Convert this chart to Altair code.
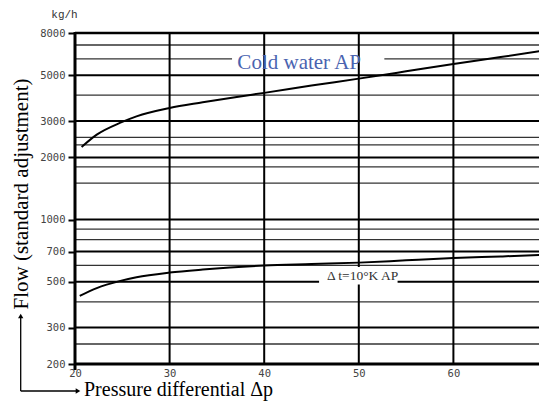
import altair as alt
import pandas as pd

# ---- data ----
cold_x = [20.7, 22.3, 24.8, 26.5, 30.0, 33.5, 37.1, 40.0, 45.0, 50.0, 55.0, 60.0, 65.0, 70.0]
cold_y = [2246, 2577, 2944, 3160, 3470, 3695, 3925, 4105, 4452, 4811, 5220, 5670, 6120, 6620]

dt_x = [20.5, 22.3, 24.8, 26.5, 30.0, 33.5, 40.0, 45.0, 50.0, 55.0, 60.0, 65.0, 70.0]
dt_y = [427, 466, 505, 526, 554, 573, 599, 609, 619, 635, 651, 663, 676]

x_ticks = [20, 30, 40, 50, 60, 70]
x_tick_labels = ["20", "30", "40", "50", "60", "80"]
y_ticks = [200, 300, 500, 700, 1000, 2000, 3000, 5000, 8000]
y_minor = [250, 400, 600, 800, 900, 1500, 1800, 2300, 2500, 4000, 6000, 7000]
x_grid = [30, 40, 50, 60, 70]

label_names = ["Cold water AP", "Δ t=10°K AP"]
label_x = [43.7, 50.4]
label_y = [5728, 533]

XDOM = [20, 70]
YDOM = [200, 8000]

W, H = 464, 331      # visible plot width (page is clipped on the right)
XRANGE = [0, 473]    # full x extent of the original plot, partly cut off

label_expr = "{" + ",".join(f"'{v}':'{l}'" for v, l in zip(x_ticks, x_tick_labels)) + "}[datum.value]"
X_AXIS = alt.Axis(values=x_ticks, title="", labelFont="DejaVu Sans Mono", labelFontSize=10.5,
                  labelColor="#444444", ticks=False, domain=False, grid=False,
                  labelPadding=4, labelExpr=label_expr, labelFlush=False)
Y_AXIS = alt.Axis(values=y_ticks, title="", labelFont="DejaVu Sans Mono", labelFontSize=10.5,
                  labelColor="#444444", ticks=True, tickSize=7, tickWidth=2, tickColor="black",
                  domain=False, grid=False, labelPadding=3, format="d")


def xe(field):
    return alt.X(field, type="quantitative",
                 scale=alt.Scale(domain=XDOM, range=XRANGE, nice=False, zero=False), axis=X_AXIS)


def ye(field):
    return alt.Y(field, type="quantitative", scale=alt.Scale(type="log", domain=YDOM, nice=False), axis=Y_AXIS)


base_df = pd.DataFrame({"a": [0]})

# horizontal grid
minor_df = pd.DataFrame({"v": y_minor})
major_df = pd.DataFrame({"v": y_ticks[1:-1]})
hminor = alt.Chart(minor_df).mark_rule(color="#333333", strokeWidth=1.3).encode(y=ye("v"))
hmajor = alt.Chart(major_df).mark_rule(color="black", strokeWidth=2).encode(y=ye("v"))

# white boxes behind labels
box_df = pd.DataFrame({"x1": [36.6], "x2": [52.7], "y1": [5300], "y2": [6650]})
box2_df = pd.DataFrame({"x1": [45.8], "x2": [54.1], "y1": [485], "y2": [590]})
box1 = alt.Chart(box_df).mark_rect(color="white").encode(
    x=xe("x1"), x2="x2", y=ye("y1"), y2="y2")
box2 = alt.Chart(box2_df).mark_rect(color="white").encode(
    x=xe("x1"), x2="x2", y=ye("y1"), y2="y2")

# vertical grid
vgrid = alt.Chart(pd.DataFrame({"v": x_grid})).mark_rule(color="black", strokeWidth=2).encode(x=xe("v"))

# borders
top_b = alt.Chart(pd.DataFrame({"v": [8000]})).mark_rule(color="black", strokeWidth=2.5).encode(y=ye("v"))
bot_b = alt.Chart(pd.DataFrame({"v": [200]})).mark_rule(color="black", strokeWidth=3).encode(y=ye("v"))
left_b = alt.Chart(base_df).mark_rule(color="black", strokeWidth=3).encode(
    x=alt.value(0), y=alt.value(-1), y2=alt.value(H + 6))

# curves
cold_df = pd.DataFrame({"x": cold_x, "y": cold_y})
dt_df = pd.DataFrame({"x": dt_x, "y": dt_y})
cold = alt.Chart(cold_df).mark_line(color="black", strokeWidth=2, interpolate="monotone").encode(
    x=xe("x"), y=ye("y"))
dt = alt.Chart(dt_df).mark_line(color="black", strokeWidth=2, interpolate="monotone").encode(
    x=xe("x"), y=ye("y"))

# curve labels
lab1 = alt.Chart(pd.DataFrame({"x": [label_x[0]], "y": [label_y[0]], "t": [label_names[0]]})).mark_text(
    font="Liberation Serif", fontSize=21, color="#4a63b0", align="center", baseline="middle").encode(
    x=xe("x"), y=ye("y"), text="t")
lab2 = alt.Chart(pd.DataFrame({"x": [label_x[1]], "y": [label_y[1]], "t": [label_names[1]]})).mark_text(
    font="Liberation Serif", fontSize=13.5, color="#333333", align="center", baseline="middle").encode(
    x=xe("x"), y=ye("y"), text="t")

# unit and axis titles
unit = alt.Chart(base_df).mark_text(font="Liberation Mono", fontSize=11, color="#333333",
                                    align="center", baseline="middle").encode(
    x=alt.value(-10.5), y=alt.value(-18.5), text=alt.value("kg/h"))
ytitle = alt.Chart(base_df).mark_text(font="Liberation Serif", fontSize=21, color="black",
                                      align="center", baseline="middle", angle=270).encode(
    x=alt.value(-53), y=alt.value(161), text=alt.value("Flow (standard adjustment)"))
xtitle = alt.Chart(base_df).mark_text(font="Liberation Serif", fontSize=20, color="black",
                                      align="left", baseline="middle").encode(
    x=alt.value(9), y=alt.value(357), text=alt.value("Pressure differential Δp"))

# arrows
arr_v = alt.Chart(base_df).mark_rule(color="black", strokeWidth=1.3).encode(
    x=alt.value(-54.3), y=alt.value(285), y2=alt.value(358))
arr_h = alt.Chart(base_df).mark_rule(color="black", strokeWidth=1.3).encode(
    x=alt.value(-54.3), x2=alt.value(1), y=alt.value(358))
head_v = alt.Chart(base_df).mark_point(shape="triangle-up", filled=True, color="black", size=28, opacity=1).encode(
    x=alt.value(-54.3), y=alt.value(283))
head_h = alt.Chart(base_df).mark_point(shape="triangle-right", filled=True, color="black", size=28, opacity=1).encode(
    x=alt.value(3), y=alt.value(358))

chart = alt.layer(
    hminor, hmajor, box1, vgrid, box2, top_b, bot_b, left_b, cold, dt, lab1, lab2,
    unit, ytitle, xtitle, arr_v, arr_h, head_v, head_h
).properties(
    width=W, height=H,
    autosize=alt.AutoSizeParams(type="none"),
    padding={"left": 67, "top": 25, "right": 0, "bottom": 37},
).configure_view(stroke=None).configure(background="white")

chart.save("out.html", embed_options={"renderer": "svg", "actions": False})
